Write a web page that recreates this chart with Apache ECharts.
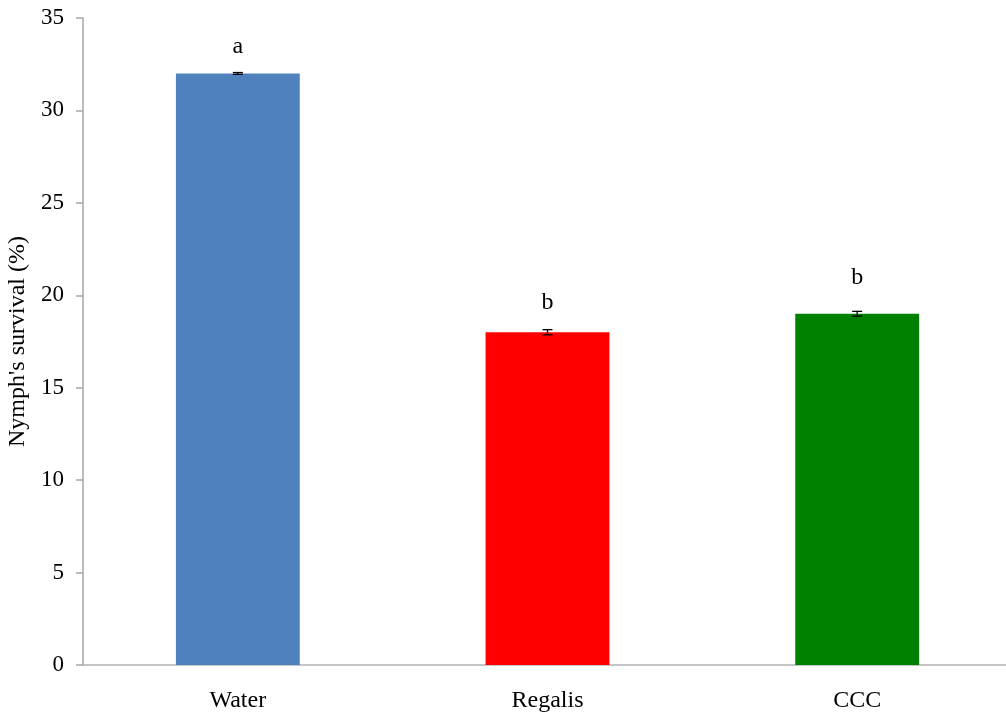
<!DOCTYPE html>
<html><head><meta charset="utf-8">
<script src="https://cdn.jsdelivr.net/npm/echarts@6/dist/echarts.min.js"></script>
<style>html,body{margin:0;padding:0;background:#fff}#c{width:1006px;height:714px}</style>
</head><body><div id="c"></div>
<script>
const categories = ['Water', 'Regalis', 'CCC'];
const survival = [32, 18, 19];
const errors = [0.05, 0.14, 0.13];
const letters = ['a', 'b', 'b'];
const colors = ['#4f81bd', '#ff0000', '#008000'];
const labelGaps = [15, 18, 24];

const chart = echarts.init(document.getElementById('c'));
const font = 'Liberation Serif';
chart.setOption({
  animation: false,
  grid: {left: 83, right: -6, top: 18, bottom: 49, containLabel: false, outerBoundsMode: 'none'},
  xAxis: {
    type: 'category', data: categories,
    axisLine: {lineStyle: {color: '#b3b3b3', width: 1.5}},
    axisTick: {show: false},
    axisLabel: {color: '#000', fontFamily: font, fontSize: 24, margin: 24}
  },
  yAxis: {
    type: 'value', min: 0, max: 35, interval: 5,
    name: "Nymph's survival (%)", nameLocation: 'middle', nameGap: 51,
    nameTextStyle: {color: '#000', fontFamily: font, fontSize: 24},
    axisLine: {show: true, lineStyle: {color: '#a6a6a6', width: 1.5}},
    axisTick: {show: true, length: 7, lineStyle: {color: '#a6a6a6', width: 1.5}},
    splitLine: {show: false},
    axisLabel: {color: '#000', fontFamily: font, fontSize: 23, margin: 19}
  },
  series: [{
    type: 'bar', barWidth: '40%',
    data: survival.map((v, i) => ({
      value: v, itemStyle: {color: colors[i]},
      label: {show: true, position: 'top', distance: labelGaps[i], formatter: letters[i],
              color: '#000', fontFamily: font, fontSize: 24}
    }))
  }, {
    type: 'custom',
    data: survival.map((v, i) => [i, v - errors[i], v + errors[i]]),
    renderItem: function (params, api) {
      const lo = api.coord([api.value(0), api.value(1)]);
      const hi = api.coord([api.value(0), api.value(2)]);
      const w = 5;
      const st = {stroke: '#000', lineWidth: 1.3};
      return {type: 'group', children: [
        {type: 'line', shape: {x1: lo[0], y1: lo[1], x2: hi[0], y2: hi[1]}, style: st},
        {type: 'line', shape: {x1: lo[0] - w, y1: lo[1], x2: lo[0] + w, y2: lo[1]}, style: st},
        {type: 'line', shape: {x1: hi[0] - w, y1: hi[1], x2: hi[0] + w, y2: hi[1]}, style: st}
      ]};
    },
    z: 10
  }]
});
</script></body></html>
